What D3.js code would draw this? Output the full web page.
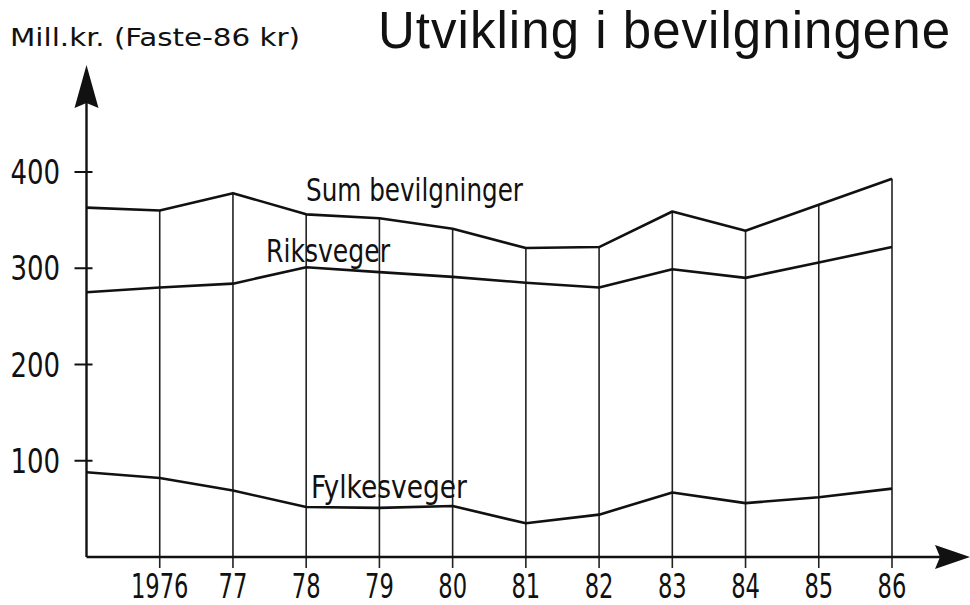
<!DOCTYPE html>
<html>
<head>
<meta charset="utf-8">
<script src="https://cdn.jsdelivr.net/npm/d3@7"></script>
<style>
  body { margin: 0; background: #fff; }
  svg { display: block; }
  .lbl { font-family: "Liberation Sans Narrow", "DejaVu Sans Condensed", "DejaVu Sans", sans-serif; fill: #111; }
</style>
</head>
<body>
<div id="chart"></div>
<script>
// values (mill. kr, faste 86-kr)
const years = [1975, 1976, 1977, 1978, 1979, 1980, 1981, 1982, 1983, 1984, 1985, 1986];
const sumBevilgninger = [363, 360, 378, 356, 352, 341, 321, 322, 359, 339, 366, 393];
const riksveger = [275, 280, 284, 301, 296, 291, 285, 280, 299, 290, 306, 322];
const fylkesveger = [88, 82, 69, 52, 51, 53, 35, 44, 67, 56, 62, 71];
const xTickYears = [1976, 1977, 1978, 1979, 1980, 1981, 1982, 1983, 1984, 1985, 1986];
const xTickLabels = ["1976", "77", "78", "79", "80", "81", "82", "83", "84", "85", "86"];
const yTicks = [100, 200, 300, 400];

const width = 970, height = 605;

const svg = d3.select("#chart").append("svg")
  .attr("width", width)
  .attr("height", height);

const x = d3.scaleLinear().domain([1975, 1986]).range([86.5, 892]);
const y = d3.scaleLinear().domain([0, 400]).range([557, 172]);

const x0 = x(1975), y0 = y(0);
const narrow = 0.74; // the lettering in the original is a narrow stencil font

// vertical year lines, from just under the axis up to the sum line
svg.selectAll("line.year")
  .data(xTickYears)
  .enter().append("line")
  .attr("class", "year")
  .attr("x1", d => x(d)).attr("x2", d => x(d))
  .attr("y1", y0 + 11)
  .attr("y2", d => y(sumBevilgninger[years.indexOf(d)]))
  .attr("stroke", "#222")
  .attr("stroke-width", 1.6);

// axes with arrows
svg.append("line")
  .attr("x1", x0).attr("x2", x0)
  .attr("y1", y0).attr("y2", 100)
  .attr("stroke", "#111").attr("stroke-width", 2.4);
svg.append("path")
  .attr("d", `M${x0},65 L${x0 - 12},108 L${x0},103 L${x0 + 12},108 Z`)
  .attr("fill", "#111");

svg.append("line")
  .attr("x1", x0).attr("x2", 940)
  .attr("y1", y0).attr("y2", y0)
  .attr("stroke", "#111").attr("stroke-width", 2.4);
svg.append("path")
  .attr("d", `M970,${y0} L935,${y0 - 12} L940,${y0} L935,${y0 + 12} Z`)
  .attr("fill", "#111");

// y ticks
svg.selectAll("line.ytick")
  .data(yTicks)
  .enter().append("line")
  .attr("class", "ytick")
  .attr("x1", x0 - 12).attr("x2", x0 + 6)
  .attr("y1", d => y(d)).attr("y2", d => y(d))
  .attr("stroke", "#111").attr("stroke-width", 2);

svg.selectAll("text.ylab")
  .data(yTicks)
  .enter().append("text")
  .attr("class", "lbl ylab")
  .attr("transform", d => `translate(60,${y(d) + 12}) scale(0.85,1)`)
  .attr("text-anchor", "end")
  .attr("font-size", 34)
  .text(d => d);

svg.selectAll("text.xlab")
  .data(xTickYears)
  .enter().append("text")
  .attr("class", "lbl xlab")
  .attr("transform", d => `translate(${x(d)},598) scale(${narrow},1)`)
  .attr("text-anchor", "middle")
  .attr("font-size", 34)
  .text((d, i) => xTickLabels[i]);

// series
const line = d3.line()
  .x((d, i) => x(years[i]))
  .y(d => y(d));

[sumBevilgninger, riksveger, fylkesveger].forEach(s => {
  svg.append("path")
    .datum(s)
    .attr("d", line)
    .attr("fill", "none")
    .attr("stroke", "#111")
    .attr("stroke-width", 2.6)
    .attr("stroke-linejoin", "round");
});

// series labels
const seriesLabels = [
  { t: "Sum bevilgninger", x: 306, y: 201, w: 217 },
  { t: "Riksveger", x: 266, y: 262, w: 124 },
  { t: "Fylkesveger", x: 311, y: 498, w: 156 }
];
svg.selectAll("text.slab")
  .data(seriesLabels)
  .enter().append("text")
  .attr("class", "lbl slab")
  .attr("x", d => d.x).attr("y", d => d.y)
  .attr("font-size", 32)
  .attr("textLength", d => d.w)
  .attr("lengthAdjust", "spacingAndGlyphs")
  .text(d => d.t);

// titles
svg.append("text")
  .attr("class", "lbl")
  .attr("x", 10).attr("y", 46)
  .attr("font-size", 25)
  .attr("textLength", 290)
  .attr("lengthAdjust", "spacingAndGlyphs")
  .text("Mill.kr. (Faste-86 kr)");

svg.append("text")
  .attr("x", 378).attr("y", 48)
  .attr("font-family", "Liberation Sans, Arial, sans-serif")
  .attr("font-size", 51)
  .attr("fill", "#111")
  .attr("textLength", 572)
  .attr("lengthAdjust", "spacing")
  .text("Utvikling i bevilgningene");
</script>
</body>
</html>
